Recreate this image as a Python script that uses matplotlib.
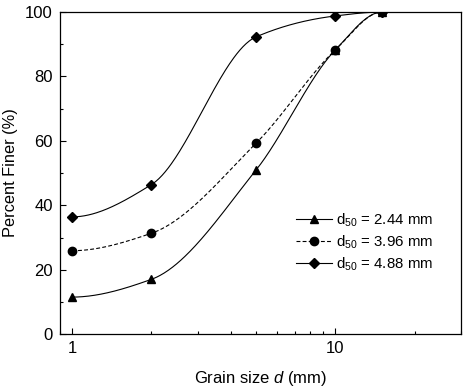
import numpy as np
import matplotlib
matplotlib.use('Agg')
import matplotlib.pyplot as plt
from matplotlib.ticker import LogLocator, FixedLocator, NullFormatter, MultipleLocator

plt.rcParams['font.family'] = ['Liberation Sans', 'DejaVu Sans']
plt.rcParams['mathtext.fontset'] = 'custom'
plt.rcParams['mathtext.rm'] = 'Liberation Sans'
plt.rcParams['mathtext.it'] = 'Liberation Sans:italic'

# grain sizes (mm) and percent finer for each gradation
grain_size = [1, 2, 5, 10, 15]
finer_244 = [11.5, 17.0, 51.0, 88.3, 100.0]
finer_396 = [25.9, 31.3, 59.3, 88.3, 100.0]
finer_488 = [36.4, 46.4, 92.3, 98.8, 100.0]
labels = ['d$_{50}$ = 2.44 mm', 'd$_{50}$ = 3.96 mm', 'd$_{50}$ = 4.88 mm']


def pchip(x, y, xs):
    # monotone cubic (Fritsch-Carlson) through the points
    x = np.asarray(x, float)
    y = np.asarray(y, float)
    h = np.diff(x)
    d = np.diff(y) / h
    m = np.zeros_like(y)
    for k in range(1, len(x) - 1):
        if d[k - 1] * d[k] > 0:
            w1 = 2 * h[k] + h[k - 1]
            w2 = h[k] + 2 * h[k - 1]
            m[k] = (w1 + w2) / (w1 / d[k - 1] + w2 / d[k])
    m[0] = 0.0
    m[-1] = 0.0
    idx = np.clip(np.searchsorted(x, xs) - 1, 0, len(x) - 2)
    t = (xs - x[idx]) / h[idx]
    h00 = 2 * t**3 - 3 * t**2 + 1
    h10 = t**3 - 2 * t**2 + t
    h01 = -2 * t**3 + 3 * t**2
    h11 = t**3 - t**2
    return (h00 * y[idx] + h10 * h[idx] * m[idx]
            + h01 * y[idx + 1] + h11 * h[idx] * m[idx + 1])


fig = plt.figure(figsize=(4.64, 3.89), dpi=100)
ax = fig.add_axes([0.129, 0.141, 0.865, 0.828])

lx = np.log10(grain_size)
xs = np.linspace(lx[0], lx[-1], 300)

series = [
    (finer_244, '^', '-'),
    (finer_396, 'o', (0, (3.5, 2))),
    (finer_488, 'D', '-'),
]
handles = []
for (vals, mk, ls), lab in zip(series, labels):
    ax.plot(10**xs, pchip(lx, vals, xs), color='black', lw=0.8, ls=ls)
    ax.plot(grain_size, vals, ls='none', marker=mk, color='black',
            ms=6 if mk != 'D' else 5)
    h, = ax.plot([], [], color='black', lw=0.8, ls=ls, marker=mk,
                 ms=6 if mk != 'D' else 5, label=lab)
    handles.append(h)

ax.set_xscale('log')
ax.set_xlim(0.9, 30)
ax.set_ylim(0, 100)
ax.xaxis.set_major_locator(FixedLocator([1, 10]))
ax.xaxis.set_minor_locator(LogLocator(base=10, subs=np.arange(2, 10)))
ax.xaxis.set_minor_formatter(NullFormatter())
ax.set_xticklabels(['1', '10'])
ax.yaxis.set_major_locator(MultipleLocator(20))
ax.yaxis.set_minor_locator(MultipleLocator(10))
ax.tick_params(which='both', direction='in', labelsize=12, top=False, right=False)
ax.tick_params(which='major', length=4, width=0.8, pad=5)
ax.tick_params(which='minor', length=2.5, width=0.8)
for s in ax.spines.values():
    s.set_linewidth(0.9)

ax.set_xlabel('Grain size $d$ (mm)', fontsize=12, labelpad=9)
ax.set_ylabel('Percent Finer (%)', fontsize=11.8, labelpad=5)

ax.legend(handles=handles, loc='upper left', bbox_to_anchor=(0.573, 0.40),
          frameon=False, fontsize=10.8, handlelength=2.4, handletextpad=0.3,
          labelspacing=0.3, borderaxespad=0)

fig.savefig('out.png', dpi=100)
